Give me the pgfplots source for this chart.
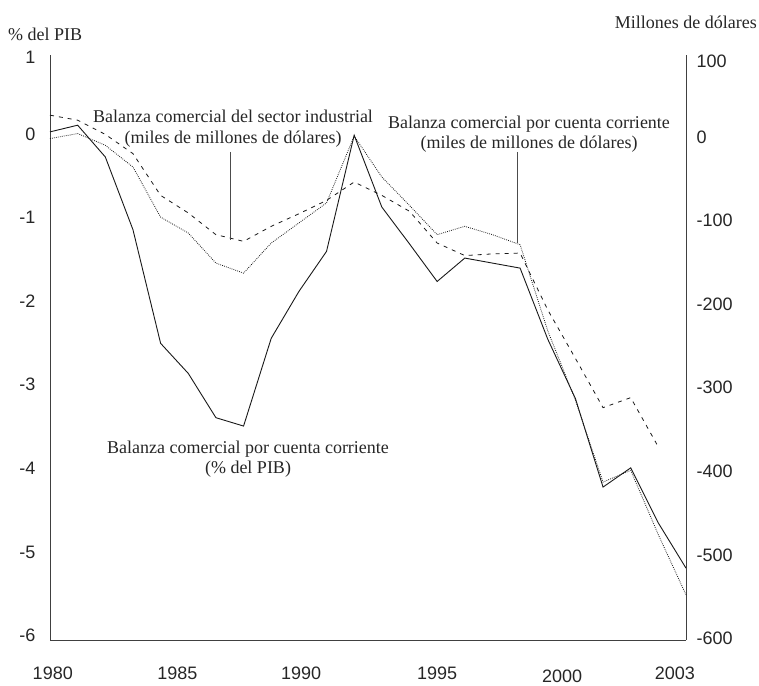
\documentclass[border=0pt]{standalone}
\usepackage{fontspec}
\setmainfont{Liberation Serif}
\newfontfamily\ticksfont{Liberation Sans}
\usepackage{pgfplots}
\pgfplotsset{compat=1.18}
\begin{document}
\begin{tikzpicture}[x=1pt,y=1pt]
\useasboundingbox (0,0) rectangle (759,685);
\begin{axis}[at={(50pt,45pt)}, anchor=south west, scale only axis,
 width=636pt, height=585pt,
 xmin=1980, xmax=2003, ymin=-6, ymax=1,
 axis x line*=bottom, axis y line*=left,
 axis line style={black!75, line width=0.9pt},
 major tick length=0pt,
 xtick={1980.1,1984.61,1989.08,1994.0,1998.52,2002.6},
 xticklabels={1980,1985,1990,1995,\raisebox{-3pt}[\height][\depth]{2000},2003},
 ytick={-6,-5,-4,-3,-2,-1,0,1},
 yticklabels={-6,-5,-4,-3,-2,-1,0,\raisebox{-7pt}[\height][\depth]{1}},
 ticklabel style={font=\ticksfont\fontsize{18}{18}\selectfont, text=black!85},
 xticklabel style={yshift=-23pt},
 yticklabel style={xshift=-11pt, yshift=4.5pt},
 clip=false]
\addplot[black!90, line width=0.9pt] coordinates {
(1980,0.08) (1981,0.16) (1982,-0.22) (1983,-1.09) (1984,-2.45) (1985,-2.81)
(1986,-3.34) (1987,-3.44) (1988,-2.39) (1989,-1.83) (1990,-1.35) (1991,0.04)
(1992,-0.82) (1993,-1.26) (1994,-1.71) (1995,-1.43) (1996,-1.49) (1997,-1.55)
(1998,-2.40) (1999,-3.11) (2000,-4.17) (2001,-3.94) (2002,-4.60) (2003,-5.14)};
\end{axis}
\begin{axis}[at={(50pt,45pt)}, anchor=south west, scale only axis,
 width=636pt, height=585pt,
 xmin=1980, xmax=2003, ymin=-600, ymax=100,
 axis x line=none, axis y line*=right,
 axis line style={black!75, line width=0.9pt},
 major tick length=0pt,
 ytick={-600,-500,-400,-300,-200,-100,0,100},
 yticklabels={-600,-500,-400,-300,-200,-100,0,\raisebox{-8pt}[\height][\depth]{100}},
 ticklabel style={font=\ticksfont\fontsize{18}{18}\selectfont, text=black!85},
 yticklabel style={xshift=7pt, yshift=1.5pt},
 clip=false]
\addplot[black!90, line width=0.8pt, dash pattern=on 0.8pt off 1.2pt] coordinates {
(1980,0) (1981,6) (1982,-8) (1983,-34) (1984,-94) (1985,-113)
(1986,-149) (1987,-161) (1988,-125) (1989,-101) (1990,-77) (1991,3)
(1992,-46) (1993,-80) (1994,-115) (1995,-105) (1996,-115) (1997,-127)
(1998,-230) (1999,-313) (2000,-411) (2001,-397) (2002,-474) (2003,-546)};
\addplot[black!90, line width=0.8pt, dash pattern=on 4pt off 5pt] coordinates {
(1980,28) (1981,22) (1982,5) (1983,-18) (1984,-68) (1985,-89)
(1986,-115) (1987,-123) (1988,-105) (1989,-90) (1990,-74) (1991,-52)
(1992,-68) (1993,-87) (1994,-125) (1995,-140) (1996,-138) (1997,-137)
(1998,-205) (1999,-263) (2000,-322) (2001,-310) (2002,-369)};
\end{axis}
\begin{scope}[every node/.style={inner sep=0pt, font=\fontsize{18}{21}\selectfont, text=black!85}]
\node[anchor=base west] at (8,644) {\% del PIB};
\node[anchor=base east] at (757,656) {Millones de dólares};
\node[anchor=base] at (233,562.5) {Balanza comercial del sector industrial};
\node[anchor=base] at (233,541.5) {(miles de millones de dólares)};
\node[anchor=base] at (529,556) {Balanza comercial por cuenta corriente};
\node[anchor=base] at (529,536) {(miles de millones de dólares)};
\node[anchor=base] at (248,231.5) {Balanza comercial por cuenta corriente};
\node[anchor=base] at (248,211.5) {(\% del PIB)};
\end{scope}
\draw[black!70, line width=1pt] (230,533) -- (230,445);
\draw[black!70, line width=1pt] (517,533) -- (517,442);
\end{tikzpicture}
\end{document}
